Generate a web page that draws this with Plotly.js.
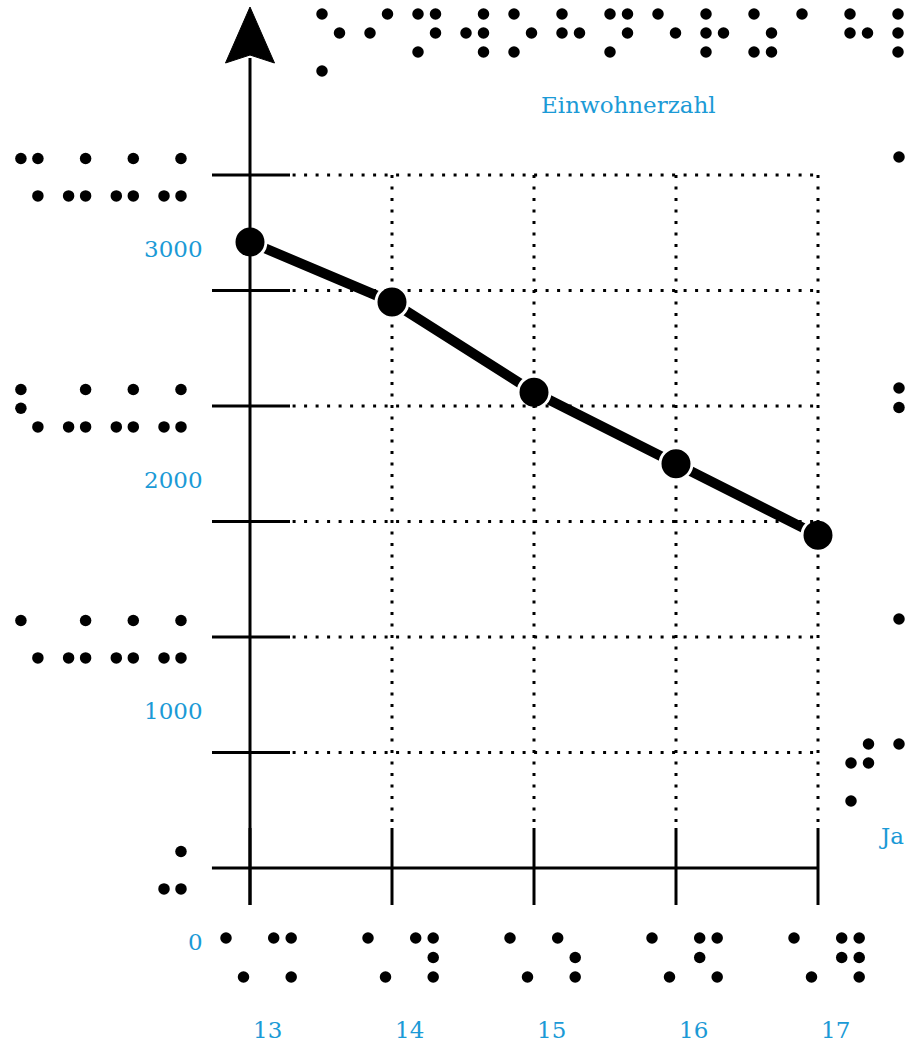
<!DOCTYPE html>
<html>
<head>
<meta charset="utf-8">
<script src="https://cdn.plot.ly/plotly-3.0.1.min.js"></script>
<style>html,body{margin:0;padding:0;background:#fff;}#chart{width:910px;height:1044px;}</style>
</head>
<body>
<div id="chart"></div>
<script>
// ---- data ----
const years = [13, 14, 15, 16, 17];
const population = [2710, 2450, 2060, 1750, 1440];
const gridValues = [500, 1000, 1500, 2000, 2500, 3000];
const yTickValues = [0, 1000, 2000, 3000];
const yTickLabels = ['0', '1000', '2000', '3000'];
const yTickBraille = ['⠬', '⠡⠬⠬⠬', '⠣⠬⠬⠬', '⠩⠬⠬⠬'];
const xTickLabels = ['13', '14', '15', '16', '17'];
const xTickBraille = ['⠡⠩', '⠡⠹', '⠡⠱', '⠡⠫', '⠡⠻'];
const yTitle = 'Einwohnerzahl';
const yTitleBraille = '⡑⠊⠝⠺⠕⠓⠝⠑⠗⠵⠁⠓⠇';
const xTitle = 'Ja';
const xTitleBraille = '⡚⠁';

// ---- geometry ----
const W = 910, H = 1044;
const XR = [11.23944, 17.64789];
const YR = [-761.9, 3757.6];
function xpx(v) { return (v - XR[0]) / (XR[1] - XR[0]) * W; }
function ypx(v) { return H - (v - YR[0]) / (YR[1] - YR[0]) * H; }

const BLUE = '#1b9ad6';
const dotsX = [], dotsY = [];
// dot index -> [col,row]
const DOTPOS = [[0,0],[0,1],[0,2],[1,0],[1,1],[1,2],[0,3],[1,3]];
function braille(str, x0, y0, colGap, rowGap, pitch) {
  Array.from(str).forEach((ch, i) => {
    const code = ch.codePointAt(0) - 0x2800;
    for (let b = 0; b < 8; b++) {
      if (code & (1 << b)) {
        dotsX.push(x0 + i * pitch + DOTPOS[b][0] * colGap);
        dotsY.push(y0 + DOTPOS[b][1] * rowGap);
      }
    }
  });
}
braille(yTitleBraille, 322, 14, 17.5, 19, 48);
braille(xTitleBraille, 851, 744, 17.5, 19, 48);
yTickValues.forEach((v, i) => {
  const s = yTickBraille[i];
  const n = Array.from(s).length;
  braille(s, 164 - (n - 1) * 47.7, ypx(v) - 16.5, 17, 18.7, 47.7);
  if (v > 0) braille(s, 899, ypx(v) - 18, 17, 19.5, 47.7);
});
years.forEach((yr, i) => {
  braille(xTickBraille[i], xpx(yr) - 24, ypx(0) + 70, 17.5, 19.5, 47.7);
});

// ---- shapes ----
const shapes = [];
const BL = {color: '#000', width: 3};
// horizontal dotted grid
gridValues.forEach(v => {
  shapes.push({type: 'line', xref: 'x', yref: 'y', x0: 13.3, x1: years[years.length - 1], y0: v, y1: v,
    line: {color: '#000', width: 3, dash: '3px,8.5px'}});
});
// vertical dotted grid
years.slice(1).forEach(yr => {
  shapes.push({type: 'line', xref: 'x', yref: 'y', x0: yr, x1: yr, y0: 3000, y1: 180,
    line: {color: '#000', width: 3, dash: '3px,8.5px'}});
});
// y ticks
gridValues.forEach(v => {
  shapes.push({type: 'line', xref: 'x', yref: 'y', xsizemode: 'pixel', xanchor: years[0],
    x0: -38, x1: 40, y0: v, y1: v, line: BL});
});
// x ticks
years.forEach(yr => {
  shapes.push({type: 'line', xref: 'x', yref: 'y', ysizemode: 'pixel', yanchor: 0,
    x0: yr, x1: yr, y0: 40, y1: -37, line: BL});
});
// x axis
shapes.push({type: 'line', xref: 'x', yref: 'y', x0: 12.732, x1: years[years.length - 1], y0: 0, y1: 0, line: BL});
// y axis
shapes.push({type: 'line', xref: 'x', yref: 'y', ysizemode: 'pixel', yanchor: 0,
  x0: years[0], x1: years[0], y0: -37, y1: 810, line: BL});
// arrow head
shapes.push({type: 'path', xref: 'x', yref: 'y', xsizemode: 'pixel', ysizemode: 'pixel',
  xanchor: years[0], yanchor: 0,
  path: 'M0,861 L24.5,805 L0,813 L-24.5,805 Z', fillcolor: '#000', line: {color: '#000', width: 1}});

// ---- annotations ----
const FONT = {family: 'DejaVu Serif', size: 23, color: BLUE};
const annotations = [];
yTickValues.forEach((v, i) => {
  annotations.push({xref: 'x', yref: 'y', x: years[0], y: v, xshift: -45, yshift: -74,
    xanchor: 'right', yanchor: 'middle', text: yTickLabels[i], showarrow: false, font: FONT});
});
years.forEach((yr, i) => {
  annotations.push({xref: 'x', yref: 'y', x: yr, y: 0, xshift: 17, yshift: -162,
    xanchor: 'center', yanchor: 'middle', text: xTickLabels[i], showarrow: false, font: FONT});
});
annotations.push({xref: 'paper', yref: 'paper', x: 628 / W, y: 1 - 105 / H, xanchor: 'center', yanchor: 'middle',
  text: yTitle, showarrow: false, font: FONT});
annotations.push({xref: 'paper', yref: 'paper', x: 891 / W, y: 1 - 836 / H, xanchor: 'center', yanchor: 'middle',
  text: xTitle, showarrow: false, font: FONT});

const traces = [
  {x: years, y: population, type: 'scatter', mode: 'lines+markers', xaxis: 'x', yaxis: 'y',
   line: {color: '#000', width: 10}, marker: {color: '#000', size: 32, line: {color: '#fff', width: 3}},
   cliponaxis: false, hoverinfo: 'skip'},
  {x: dotsX, y: dotsY, type: 'scatter', mode: 'markers', xaxis: 'x2', yaxis: 'y2',
   marker: {color: '#000', size: 11.5}, hoverinfo: 'skip'}
];

const layout = {
  width: W, height: H, margin: {l: 0, r: 0, t: 0, b: 0, pad: 0},
  paper_bgcolor: '#fff', plot_bgcolor: '#fff', showlegend: false,
  xaxis: {range: XR, visible: false, fixedrange: true},
  yaxis: {range: YR, visible: false, fixedrange: true},
  xaxis2: {range: [0, W], overlaying: 'x', visible: false, fixedrange: true},
  yaxis2: {range: [H, 0], overlaying: 'y', visible: false, fixedrange: true},
  shapes: shapes, annotations: annotations
};
Plotly.newPlot('chart', traces, layout, {staticPlot: true, displayModeBar: false});
</script>
</body>
</html>
